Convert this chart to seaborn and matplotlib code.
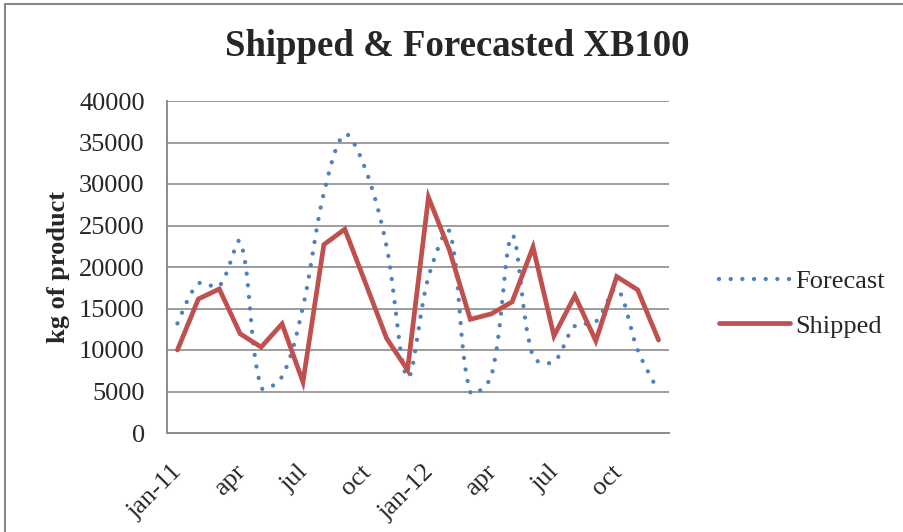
import numpy as np
import pandas as pd
import seaborn as sns
import matplotlib.pyplot as plt
import matplotlib.transforms as mtransforms
from matplotlib.lines import Line2D

months = ['jan-11', 'feb', 'mar', 'apr', 'may', 'jun', 'jul', 'aug', 'sep', 'oct', 'nov', 'dec',
          'jan-12', 'feb', 'mar', 'apr', 'may', 'jun', 'jul', 'aug', 'sep', 'oct', 'nov', 'dec']
forecast = [13200, 18000, 17700, 23050, 5500, 6800, 15200, 28900, 36000, 31700, 22450, 6700,
            18800, 24300, 4900, 6800, 23800, 9200, 8600, 12900, 13400, 17400, 10000, 5000]
shipped = [10000, 16150, 17350, 11950, 10350, 13150, 6150, 22700, 24550, 18000, 11400, 7600,
           28400, 22050, 13700, 14350, 15800, 22400, 11700, 16550, 11100, 18850, 17250, 11200]
tick_labels = ['jan-11', 'apr', 'jul', 'oct', 'jan-12', 'apr', 'jul', 'oct']

sns.set_style('white')
plt.rcParams['font.family'] = ['Liberation Serif', 'DejaVu Serif']

BLUE = '#4F81BD'
RED = '#C0504D'
GRID = '#8C8C8C'


def smooth_line(xs, ys, sx, sy, n=30):
    # excel-like smoothed line: bezier segments, control points scaled by chord length
    p = np.column_stack([np.asarray(xs, float) * sx, np.asarray(ys, float) * sy])
    out = [p[0]]
    for i in range(len(p) - 1):
        p0 = p[i - 1] if i > 0 else p[i]
        p1, p2 = p[i], p[i + 1]
        p3 = p[i + 2] if i + 2 < len(p) else p[i + 1]
        l01 = np.hypot(*(p1 - p0))
        l12 = np.hypot(*(p2 - p1))
        l23 = np.hypot(*(p3 - p2))
        f1 = l12 / (l01 + l12) if l01 + l12 > 0 else 0
        f2 = l12 / (l12 + l23) if l12 + l23 > 0 else 0
        c1 = p1 + (p2 - p0) * f1 / 3 * (1 if i > 0 else 0.5)
        c2 = p2 - (p3 - p1) * f2 / 3 * (1 if i + 2 < len(p) else 0.5)
        t = np.linspace(0, 1, n)[1:, None]
        seg = ((1 - t) ** 3) * p1 + 3 * ((1 - t) ** 2) * t * c1 + 3 * (1 - t) * t ** 2 * c2 + t ** 3 * p2
        out.extend(seg)
    out = np.array(out)
    return out[:, 0] / sx, out[:, 1] / sy


idx = np.arange(len(months))
df = pd.DataFrame({'idx': idx, 'month': months, 'Forecast': forecast, 'Shipped': shipped})

fig = plt.figure(figsize=(9.04, 5.32), dpi=100)
ax = fig.add_axes([167 / 904, 1 - 433 / 532, 502 / 904, 332 / 532])

fx, fy = smooth_line(df['idx'], df['Forecast'], 502 / 24, 332 / 40000)
sm = pd.DataFrame({'x': fx, 'y': fy})
sns.lineplot(data=sm, x='x', y='y', sort=False, estimator=None, ax=ax, color=BLUE, lw=3.1,
             dashes=False, label='Forecast')
ax.lines[-1].set_linestyle((0, (0.01, 2.7)))
ax.lines[-1].set_dash_capstyle('round')

sns.lineplot(data=df, x='idx', y='Shipped', ax=ax, color=RED, lw=3.4, label='Shipped')
ax.lines[-1].set_solid_joinstyle('miter')

ax.set_xlim(-0.5, 23.5)
ax.set_ylim(0, 40000)
ax.set_yticks(range(0, 40001, 5000))
ax.yaxis.grid(True, color=GRID, lw=1.2)
ax.set_axisbelow(True)
for s in ['top', 'right']:
    ax.spines[s].set_visible(False)
for s in ['left', 'bottom']:
    ax.spines[s].set_color(GRID)
    ax.spines[s].set_linewidth(1.4)

ax.set_xticks(idx[::3])
ax.set_xticklabels(tick_labels, rotation=45, ha='right', va='top', rotation_mode='anchor')
ax.tick_params(axis='x', length=0, pad=20, labelsize=19)
ax.tick_params(axis='y', length=0, pad=16, labelsize=19)
offset = mtransforms.ScaledTranslation(-6 / 100, 0, fig.dpi_scale_trans)
for lab in ax.get_xticklabels():
    lab.set_transform(lab.get_transform() + offset)

ax.set_xlabel('')
ax.set_ylabel('kg of product', fontsize=19, fontweight='bold')
ax.yaxis.set_label_coords(-0.193, 0.5)

fig.text(457 / 904, 1 - 47 / 532, 'Shipped & Forecasted XB100', ha='center', va='center',
         fontsize=26.5, fontweight='bold')

ax.get_legend().remove()
handles, labels = ax.get_legend_handles_labels()
fig.legend(handles, labels, loc='center left', bbox_to_anchor=(719 / 904, 1 - 303.5 / 532),
           frameon=False, fontsize=19, handlelength=2.7, handletextpad=0.2, borderpad=0,
           labelspacing=0.8, borderaxespad=0)

fig.add_artist(Line2D([5 / 904, 1], [1 - 4 / 532, 1 - 4 / 532], color='#888888', lw=1.5))
fig.add_artist(Line2D([5 / 904, 5 / 904], [0, 1 - 4 / 532], color='#888888', lw=1.5))

plt.savefig('out.png', dpi=100)
